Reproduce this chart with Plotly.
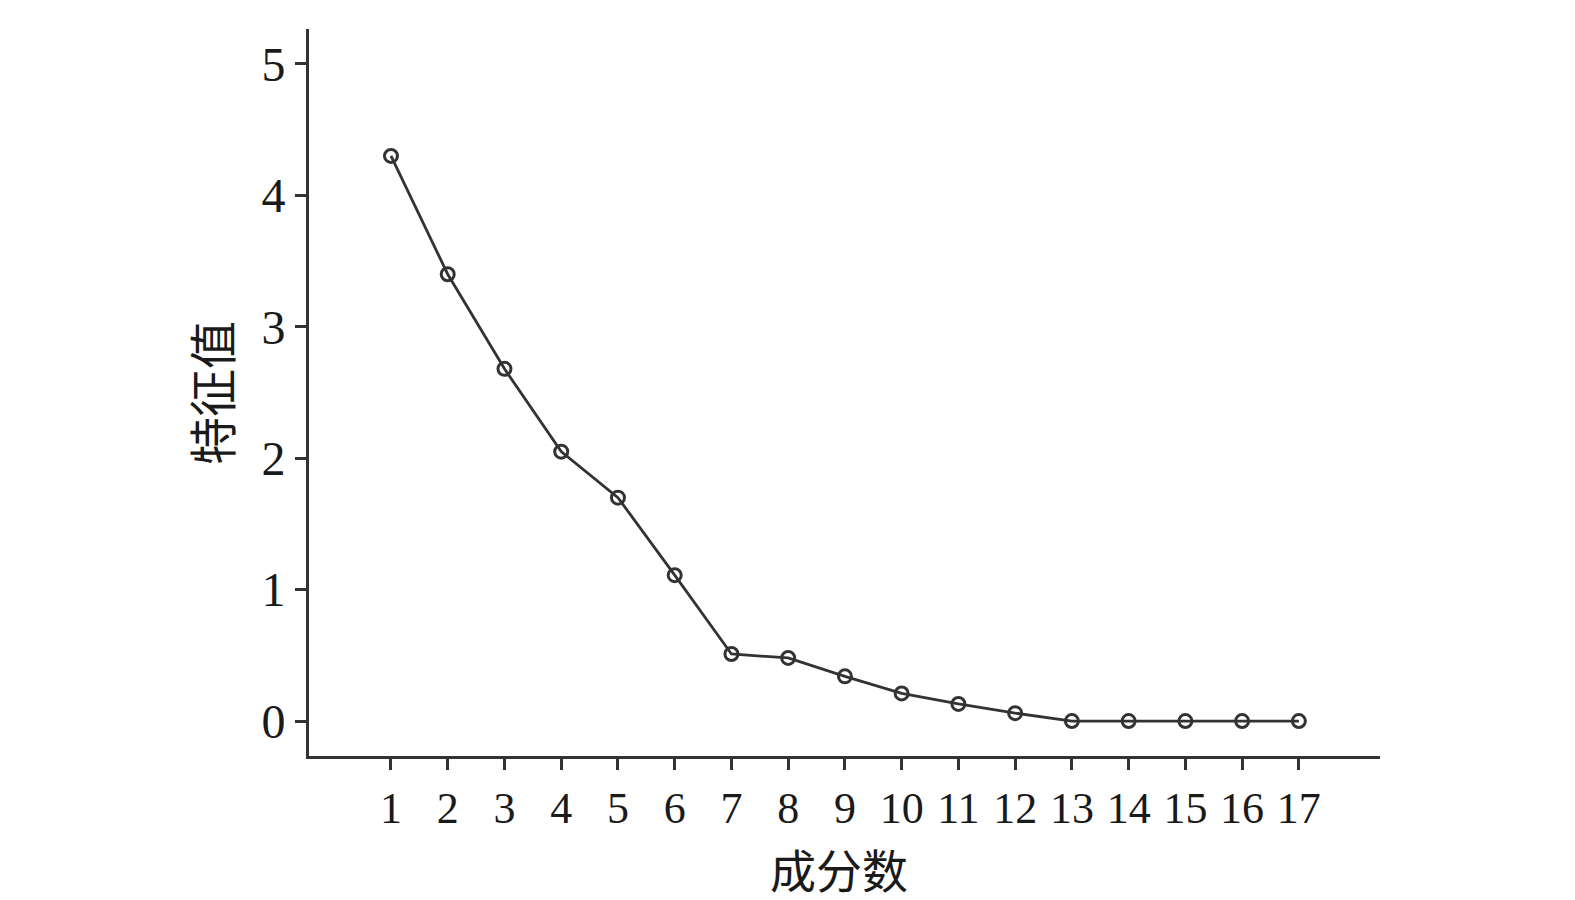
import plotly.graph_objects as go

components = list(range(1, 18))
eigenvalues = [4.30, 3.40, 2.68, 2.05, 1.70, 1.11, 0.51, 0.48, 0.34, 0.21, 0.13, 0.06, 0.0, 0.0, 0.0, 0.0, 0.0]
x_title = "成分数"
y_title = "特征值"

ink = "#333333"
fig = go.Figure()
fig.add_trace(go.Scatter(
    x=components, y=eigenvalues, mode="lines+markers",
    line=dict(color=ink, width=2.8),
    marker=dict(symbol="circle-open", size=13, color=ink, line=dict(width=3, color=ink)),
    showlegend=False,
))

serif = "Liberation Serif, Times New Roman, serif"
cjk = "Noto Sans CJK SC"
L, R, T, B = 301, 203, 21, 152
W, H = 1575, 900
plot_w = W - L - R
plot_h = H - T - B

fig.update_layout(
    width=W, height=H,
    margin=dict(l=L, r=R, t=T, b=B),
    paper_bgcolor="white", plot_bgcolor="white",
    font=dict(family=serif, color="#1a1a1a", size=46),
    annotations=[
        dict(text=x_title, x=(831 - L) / plot_w, xref="paper",
             y=(H - B - 860) / plot_h, yref="paper", showarrow=False,
             font=dict(family=cjk, size=46, color="#1a1a1a"),
             xanchor="center", yanchor="middle"),
        dict(text=y_title, x=(202 - L) / plot_w, xref="paper",
             y=(H - B - 385) / plot_h, yref="paper", showarrow=False,
             font=dict(family=cjk, size=48, color="#1a1a1a"), textangle=-90,
             xanchor="center", yanchor="middle"),
    ],
)

fig.update_xaxes(
    range=[-0.445, 18.43], tickmode="array", tickvals=components,
    ticktext=[str(c) for c in components],
    showline=True, linecolor=ink, linewidth=3, mirror=False,
    ticks="outside", ticklen=11, tickwidth=3, tickcolor=ink,
    showgrid=False, zeroline=False, automargin=False,
    tickfont=dict(family=serif, size=44),
)
fig.update_yaxes(
    range=[-0.266, 5.266], tickmode="array", tickvals=[0, 1, 2, 3, 4, 5],
    showline=True, linecolor=ink, linewidth=3,
    ticks="outside", ticklen=11, tickwidth=3, tickcolor=ink,
    showgrid=False, zeroline=False, automargin=False,
    tickfont=dict(family=serif, size=48),
)
fig.write_html("out.html")
